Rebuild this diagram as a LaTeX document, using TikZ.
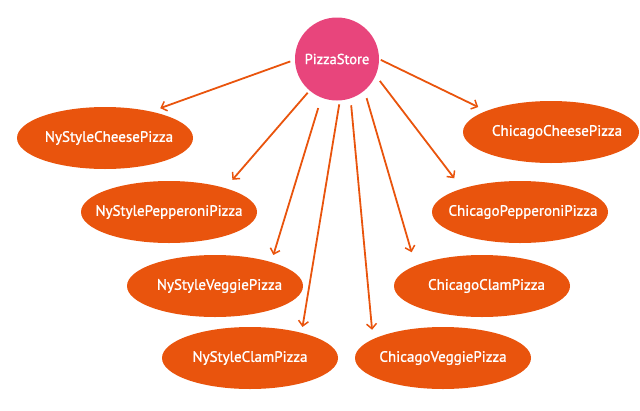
\documentclass[tikz,border=0pt]{standalone}
\usepackage{fontspec}
\setmainfont{PT Sans}[FakeBold=1.2]
\usetikzlibrary{shapes.geometric,arrows.meta}
\definecolor{pizzaorange}{HTML}{E9540D}
\definecolor{storepink}{HTML}{E8457C}
\newcommand{\nowidth}[1]{\makebox[0pt]{#1}}
\tikzset{
  pizza/.style={ellipse, fill=pizzaorange, text=white, minimum width=176pt, minimum height=62pt, inner sep=0pt, outer sep=0pt, font=\fontsize{15}{17}\selectfont},
  store/.style={ellipse, fill=storepink, text=white, minimum width=84pt, minimum height=83pt, inner sep=0pt, outer sep=0pt, font=\fontsize{14.5}{16}\selectfont},
  link/.style={draw=pizzaorange, line width=1.8pt, -{Straight Barb[length=5pt,width=10pt,line width=1.5pt]}}
}
\begin{document}
\begin{tikzpicture}[x=1pt,y=-1pt]
\useasboundingbox (0,0) rectangle (640,410);
\node[store] (ps) at (337,59) {\nowidth{PizzaStore}};
\node[pizza] (nyc) at (105,138) {\nowidth{\hspace*{8pt}NyStyleCheesePizza}};
\node[pizza] (nyp) at (169,212) {\nowidth{NyStylePepperoniPizza}};
\node[pizza] (nyv) at (215,286) {\nowidth{\hspace*{9pt}NyStyleVeggiePizza}};
\node[pizza] (nyl) at (250,358) {\nowidth{NyStyleClamPizza}};
\node[pizza] (chc) at (551,132) {\nowidth{\hspace*{12pt}ChicagoCheesePizza}};
\node[pizza] (chp) at (520,212) {\nowidth{\hspace*{6pt}ChicagoPepperoniPizza}};
\node[pizza] (chl) at (482,286) {\nowidth{\hspace*{9pt}ChicagoClamPizza}};
\node[pizza] (chv) at (443,358) {\nowidth{ChicagoVeggiePizza}};
\draw[link, shorten <=5pt, shorten >=10pt] (ps.181) -- (nyc.30);
\draw[link, shorten <=3pt, shorten >=11pt] (ps.229) -- (nyp.23);
\draw[link, shorten <=11pt, shorten >=7.5pt] (ps.248) -- (nyv.23);
\draw[link, shorten <=4pt, shorten >=6pt] (ps.274) -- (nyl.26);
\draw[link, shorten <=7pt, shorten >=9.5pt] (ps.289) -- (chv.165);
\draw[link, shorten <=8pt, shorten >=14pt] (ps.311) -- (chl.163);
\draw[link, shorten <=7pt, shorten >=13pt] (ps.337) -- (chp.158);
\draw[link, shorten <=2pt, shorten >=9pt] (ps.0) -- (chc.162);
\end{tikzpicture}
\end{document}
